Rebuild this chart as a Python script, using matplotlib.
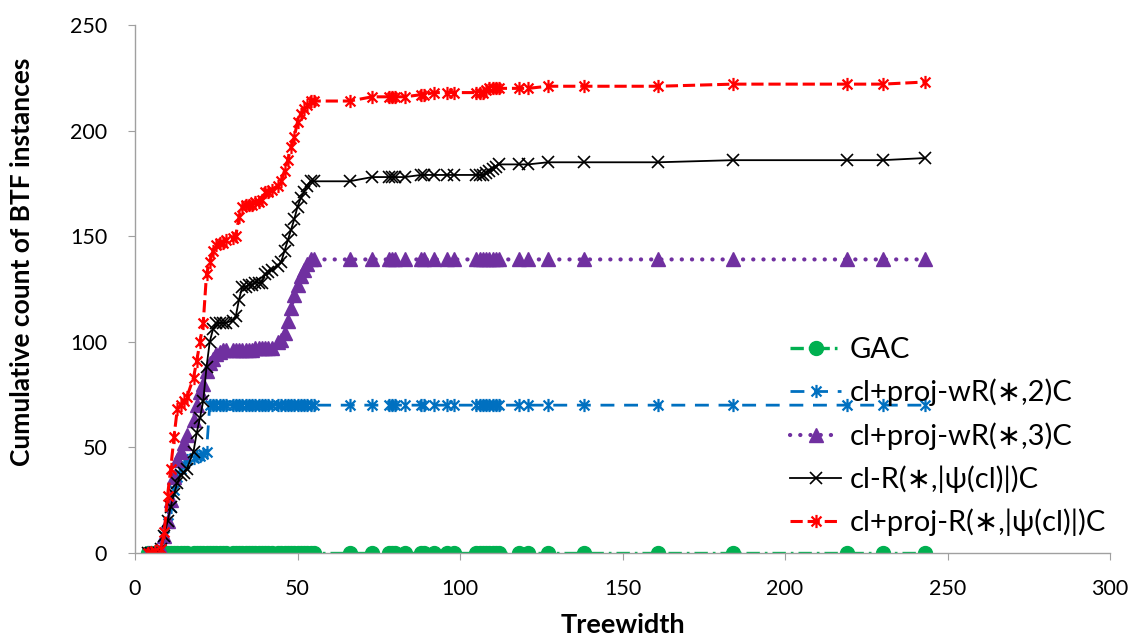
import matplotlib
matplotlib.use("Agg")
import matplotlib.pyplot as plt
from matplotlib.path import Path

plt.rcParams['font.family'] = ['Lato', 'DejaVu Sans']

# treewidth values of the instances (x axis)
treewidth = [4, 5, 6, 8, 9, 10, 11, 12, 13, 14, 15, 16, 18, 19, 20, 21, 22, 23, 24, 25,
             26, 27, 28, 30, 31, 32, 33, 34, 35, 36, 37, 38, 39, 40, 41, 42, 44, 45, 46, 47,
             48, 49, 50, 51, 52, 53, 54, 55, 66, 73, 78, 79, 80, 83, 88, 89, 92, 96, 98, 105,
             106, 107, 108, 109, 110, 111, 112, 118, 121, 127, 138, 161, 184, 219, 230, 243]

gac = [0, 0, 0, 0, 0, 0, 0, 0, 0, 0, 0, 0, 0, 0, 0, 0, 0, 0, 0, 0,
       0, 0, 0, 0, 0, 0, 0, 0, 0, 0, 0, 0, 0, 0, 0, 0, 0, 0, 0, 0,
       0, 0, 0, 0, 0, 0, 0, 0, 0, 0, 0, 0, 0, 0, 0, 0, 0, 0, 0, 0,
       0, 0, 0, 0, 0, 0, 0, 0, 0, 0, 0, 0, 0, 0, 0, 0]

wr2 = [0, 0, 0, 2, 8, 14, 22, 30, 36, 40, 42, 44, 45, 46, 46, 47, 48, 70, 70, 70,
       70, 70, 70, 70, 70, 70, 70, 70, 70, 70, 70, 70, 70, 70, 70, 70, 70, 70, 70, 70,
       70, 70, 70, 70, 70, 70, 70, 70, 70, 70, 70, 70, 70, 70, 70, 70, 70, 70, 70, 70,
       70, 70, 70, 70, 70, 70, 70, 70, 70, 70, 70, 70, 70, 70, 70, 70]

wr3 = [0, 0, 0, 2, 8, 15, 25, 36, 44, 48, 52, 56, 63, 70, 76, 80, 86, 90, 92, 94,
       95, 96, 96, 96, 96, 96, 96, 96, 96, 96, 97, 97, 97, 97, 97, 97, 100, 101, 104, 110,
       116, 122, 127, 131, 134, 137, 139, 139, 139, 139, 139, 139, 139, 139, 139, 139, 139, 139, 139, 139,
       139, 139, 139, 139, 139, 139, 139, 139, 139, 139, 139, 139, 139, 139, 139, 139]

clr = [0, 0, 0, 2, 8, 15, 22, 28, 33, 37, 38, 40, 48, 57, 64, 72, 88, 100, 106, 109,
       109, 109, 109, 110, 112, 120, 126, 126, 127, 127, 128, 128, 128, 132, 133, 134, 136, 138, 143, 148,
       153, 158, 164, 168, 171, 174, 176, 176, 176, 178, 178, 178, 178, 178, 179, 179, 179, 179, 179, 179,
       179, 179, 180, 181, 182, 183, 184, 184, 184, 185, 185, 185, 186, 186, 186, 187]

projr = [0, 0, 1, 2, 10, 27, 40, 55, 68, 70, 72, 74, 83, 91, 100, 109, 132, 138, 143, 146,
         147, 147, 148, 149, 150, 159, 164, 165, 165, 165, 166, 166, 167, 171, 171, 172, 174, 176, 181, 186,
         192, 197, 204, 208, 210, 212, 214, 214, 214, 216, 216, 216, 216, 216, 217, 217, 218, 218, 218, 218,
         218, 218, 219, 220, 220, 220, 220, 220, 220, 221, 221, 221, 222, 222, 222, 223]

labels = ['GAC', 'cl+proj-wR(\u2217,2)C', 'cl+proj-wR(\u2217,3)C',
          'cl-R(\u2217,|\u03c8(cl)|)C', 'cl+proj-R(\u2217,|\u03c8(cl)|)C']

# asterisk marker like the Excel "star"
asterisk = Path([(0, -1), (0, 1), (-0.75, -0.75), (0.75, 0.75), (-0.75, 0.75), (0.75, -0.75)],
                [Path.MOVETO, Path.LINETO] * 3)

fig = plt.figure(figsize=(11.39, 6.39), dpi=100)
ax = fig.add_axes([135 / 1139, 1 - 553 / 639, 975 / 1139, 528 / 639])

ax.plot(treewidth, gac, color='#00B050', lw=2.4, dashes=(4, 1.5, 0.8, 1.5),
        marker='o', ms=10, label=labels[0])
ax.plot(treewidth, wr2, color='#0070C0', lw=2.0, dashes=(5, 3.5),
        marker=asterisk, ms=9.5, mew=1.6, label=labels[1])
ax.plot(treewidth, wr3, color='#7030A0', lw=3.0, linestyle=(0, (0.05, 2.4)),
        dash_capstyle='round', marker='^', ms=10, label=labels[2])
ax.plot(treewidth, clr, color='black', lw=1.3, marker='x', ms=9, mew=1.2, label=labels[3])
ax.plot(treewidth, projr, color='#FF0000', lw=2.2, dashes=(4, 1.6),
        marker=asterisk, ms=9.5, mew=1.6, label=labels[4])

ax.set_xlim(0, 300)
ax.set_ylim(0, 250)
ax.set_xticks([0, 50, 100, 150, 200, 250, 300])
ax.set_yticks([0, 50, 100, 150, 200, 250])
ax.spines['top'].set_visible(False)
ax.spines['right'].set_visible(False)
for s in ['left', 'bottom']:
    ax.spines[s].set_color('#A0A0A0')
    ax.spines[s].set_linewidth(1.0)
ax.tick_params(axis='both', colors='#A0A0A0', length=5, labelcolor='black', labelsize=15.5)
ax.tick_params(axis='x', pad=14)
ax.tick_params(axis='y', pad=15)

fig.text(623 / 1139, 1 - 625 / 639, 'Treewidth', fontsize=19.5, fontweight='bold',
         ha='center', va='center')
fig.text(22 / 1139, 1 - 262 / 639, 'Cumulative count of BTF instances', fontsize=19,
         fontweight='bold', rotation=90, ha='center', va='center')

ax.legend(loc='upper left', bbox_to_anchor=(790 / 1139, 1 - 337 / 639), bbox_transform=fig.transFigure,
          frameon=False, fontsize=21, handlelength=1.75, handletextpad=0.3, labelspacing=0.54,
          borderpad=0, borderaxespad=0)

fig.savefig('out.png', dpi=100)
